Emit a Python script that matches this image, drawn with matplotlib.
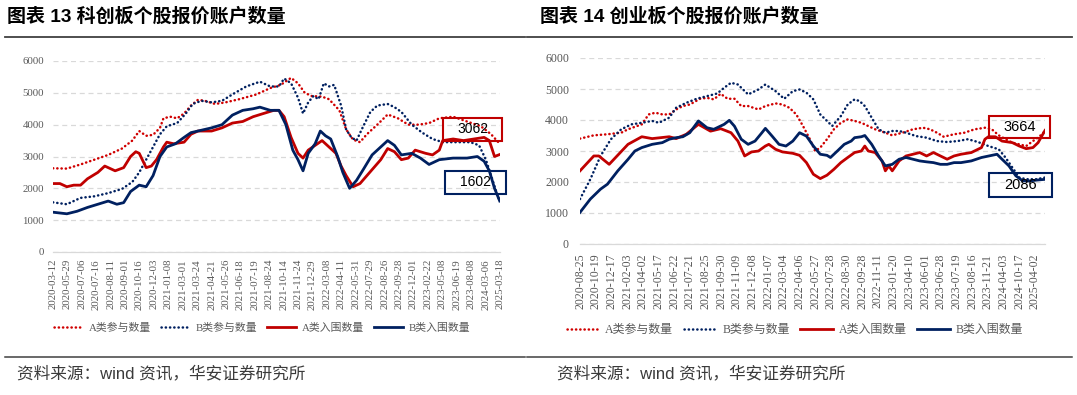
import matplotlib
matplotlib.use("Agg")
import matplotlib.pyplot as plt
from matplotlib.lines import Line2D
from matplotlib.patches import Rectangle

W, H, DPI = 1077, 395, 100

# ---------------- data ----------------
# x positions are in units of "tick label index" of each categorical axis

kc_labels = ["2020-03-12", "2020-05-29", "2020-07-06", "2020-07-16", "2020-08-11", "2020-09-01",
             "2020-10-16", "2020-12-03", "2021-01-08", "2021-03-01", "2021-03-24", "2021-04-21",
             "2021-05-26", "2021-06-18", "2021-07-19", "2021-08-24", "2021-10-14", "2021-11-24",
             "2021-12-29", "2022-03-08", "2022-04-11", "2022-05-31", "2022-07-29", "2022-08-26",
             "2022-09-28", "2022-12-01", "2023-02-22", "2023-05-08", "2023-06-19", "2023-08-08",
             "2024-03-06", "2025-03-18"]

cy_labels = ["2020-08-25", "2020-10-19", "2020-12-17", "2021-02-03", "2021-04-02", "2021-05-17",
             "2021-06-22", "2021-07-21", "2021-08-25", "2021-09-30", "2021-11-09", "2021-12-08",
             "2022-01-07", "2022-03-04", "2022-04-06", "2022-05-27", "2022-07-28", "2022-08-30",
             "2022-09-28", "2022-11-11", "2023-01-20", "2023-04-10", "2023-06-01", "2023-06-28",
             "2023-07-19", "2023-08-16", "2023-11-21", "2024-04-03", "2024-10-17", "2025-04-02"]

series_names = ["A类参与数量", "B类参与数量", "A类入围数量", "B类入围数量"]

# 科创板 - A类参与
kc_a_join_x = [0.00, 0.96, 1.91, 2.87, 3.83, 4.78, 5.50, 5.98, 6.46, 6.94, 7.42, 7.66, 8.13, 8.61,
               9.09, 9.57, 10.05, 10.53, 11.24, 11.96, 12.92, 14.11, 15.07, 15.79, 16.51, 16.99,
               17.46, 17.94, 18.66, 19.14, 19.86, 20.33, 20.81, 21.29, 21.77, 22.49, 23.21, 23.92,
               24.64, 25.36, 26.08, 26.79, 27.75, 28.71, 29.67, 30.38, 30.98]
kc_a_join_y = [2630, 2620, 2750, 2900, 3050, 3250, 3500, 3800, 3650, 3680, 3900, 4200, 4250, 4200,
               4350, 4600, 4780, 4750, 4650, 4700, 4800, 4950, 5150, 5250, 5470, 5300,
               5000, 4900, 4880, 4800, 4450, 3850, 3530, 3450, 3700, 4000, 4320, 4200,
               4000, 4000, 4050, 4200, 4250, 4100, 3950, 3700, 3400]

# 科创板 - B类参与
kc_b_join_x = [0.00, 0.96, 1.91, 2.87, 3.83, 4.78, 5.50, 5.98, 6.46, 6.94, 7.42, 7.89, 8.61, 9.21,
               9.69, 10.29, 11.00, 11.72, 12.44, 13.40, 14.35, 15.07, 15.67, 16.03, 16.51, 16.99,
               17.34, 17.70, 18.06, 18.42, 18.78, 19.14, 19.50, 19.98, 20.33, 20.69, 21.05, 21.41,
               22.01, 22.49, 23.21, 23.68, 24.16, 24.88, 25.60, 26.32, 27.03, 27.99, 28.95, 29.55,
               30.02, 30.38, 30.74, 30.98]
kc_b_join_y = [1560, 1500, 1700, 1750, 1850, 1980, 2200, 2500, 2900, 3300, 3700, 3950, 4050, 4350,
               4650, 4750, 4700, 4750, 4950, 5200, 5350, 5200, 5200, 5450, 5300, 4850,
               4350, 4700, 4900, 4800, 5300, 5200, 5250, 4600, 3850, 3600, 3500, 3850,
               4400, 4600, 4650, 4550, 4400, 4000, 3750, 3550, 3450, 3450, 3450, 3350,
               2900, 2400, 1900, 1600]

# 科创板 - A类入围
kc_a_in_x = [0.00, 0.48, 0.96, 1.44, 1.91, 2.39, 3.11, 3.59, 4.31, 4.90, 5.38, 5.74, 5.98, 6.46,
             6.82, 7.18, 7.66, 7.89, 8.37, 9.09, 9.57, 10.05, 11.00, 11.72, 12.44, 13.16, 13.88,
             14.59, 15.31, 15.67, 16.03, 16.51, 16.99, 17.34, 17.70, 18.18, 18.66, 19.14, 19.62,
             19.98, 20.33, 20.81, 21.29, 21.77, 22.25, 22.73, 23.21, 23.68, 24.16, 24.64, 25.12,
             25.84, 26.32, 26.79, 27.03, 27.75, 28.47, 29.19, 29.90, 30.26, 30.62, 30.98]
kc_a_in_y = [2150, 2150, 2050, 2100, 2100, 2300, 2500, 2700, 2550, 2650, 3000, 3150, 3100, 2650,
             2700, 2900, 3300, 3450, 3400, 3450, 3700, 3800, 3800, 3900, 4050, 4100, 4250,
             4350, 4450, 4450, 4250, 3600, 3100, 2950, 3200, 3350, 3500, 3300, 3100,
             2700, 2400, 2050, 2150, 2400, 2650, 2900, 3250, 3150, 2900, 2950, 3200,
             3100, 3050, 3200, 3500, 3550, 3500, 3550, 3600, 3500, 3000, 3062]

# 科创板 - B类入围
kc_b_in_x = [0.00, 0.96, 1.67, 2.39, 3.11, 3.83, 4.43, 4.90, 5.38, 5.98, 6.46, 6.94, 7.42, 7.89,
             8.49, 9.09, 9.57, 10.05, 11.00, 11.72, 12.44, 13.16, 13.88, 14.35, 15.07, 15.67,
             16.15, 16.63, 16.99, 17.34, 17.70, 18.18, 18.54, 18.90, 19.26, 19.74, 20.10, 20.57,
             21.05, 21.53, 22.13, 22.73, 23.21, 23.68, 24.16, 24.88, 25.48, 26.08, 26.79, 27.75,
             28.71, 29.43, 29.90, 30.26, 30.62, 30.98]
kc_b_in_y = [1250, 1200, 1280, 1400, 1500, 1600, 1500, 1550, 1900, 2100, 2050, 2400, 3000, 3300,
             3400, 3600, 3750, 3800, 3900, 4000, 4300, 4450, 4500, 4550, 4450, 4450,
             4000, 3200, 2900, 2550, 3100, 3400, 3800, 3650, 3550, 3000, 2500, 2000,
             2250, 2600, 3050, 3300, 3500, 3350, 3050, 3100, 2950, 2750, 2900, 2950,
             2950, 3000, 2850, 2550, 2000, 1602]

# 创业板 - A类参与
cy_a_join_x = [0.00, 0.88, 1.75, 2.63, 3.06, 3.94, 4.38, 4.81, 5.25, 5.69, 6.13, 6.56, 7.00, 7.66,
               8.10, 8.53, 8.97, 9.41, 9.85, 10.28, 10.72, 11.38, 11.82, 12.47, 12.91, 13.35,
               13.79, 14.22, 14.66, 14.99, 15.32, 15.75, 16.19, 16.63, 17.07, 17.51, 17.94, 18.38,
               18.82, 19.47, 19.91, 20.57, 21.23, 21.88, 22.32, 22.76, 23.19, 23.85, 24.51, 25.16,
               25.82, 26.26, 26.70, 27.13, 27.57, 28.01, 28.45, 28.88, 29.32, 29.65]
cy_a_join_y = [3400, 3505, 3540, 3590, 3700, 3860, 4180, 4235, 4180, 4180, 4340, 4450, 4500, 4685,
               4715, 4665, 4845, 4685, 4685, 4450, 4450, 4340, 4450, 4535, 4500, 4395,
               4180, 3805, 3380, 3000, 3110, 3380, 3700, 3910, 4020, 3970, 3910, 3805,
               3700, 3590, 3505, 3590, 3700, 3750, 3700, 3590, 3460, 3540, 3590, 3700,
               3750, 3700, 3505, 3380, 3270, 3215, 3160, 3320, 3480, 3640]

# 创业板 - B类参与
cy_b_join_x = [0.00, 0.66, 1.31, 1.97, 2.63, 3.28, 3.94, 4.60, 5.03, 5.69, 6.13, 6.78, 7.44, 8.10,
               8.75, 9.19, 9.63, 10.07, 10.72, 11.38, 11.82, 12.47, 13.02, 13.57, 14.00, 14.44,
               14.88, 15.32, 15.75, 16.08, 16.63, 17.07, 17.51, 17.83, 18.16, 18.60, 19.04, 19.47,
               19.91, 20.35, 20.79, 21.44, 22.10, 22.76, 23.41, 24.07, 24.73, 25.38, 26.04, 26.70,
               27.13, 27.57, 28.01, 28.45, 29.10, 29.65]
cy_b_join_y = [1450, 2090, 2840, 3380, 3700, 3860, 3910, 3970, 3910, 4075, 4395, 4555, 4685, 4770,
               4855, 5040, 5200, 5145, 4825, 4985, 5145, 4930, 4685, 4930, 4985, 4880,
               4665, 4180, 3970, 3805, 4125, 4500, 4665, 4610, 4450, 4075, 3700, 3590,
               3645, 3645, 3590, 3480, 3430, 3320, 3290, 3320, 3380, 3290, 3160, 3055,
               2790, 2465, 2145, 2090, 2090, 2145]

# 创业板 - A类入围
cy_a_in_x = [0.00, 0.88, 1.20, 1.86, 3.06, 3.94, 4.60, 5.69, 6.13, 6.78, 7.55, 8.32, 8.97, 9.63,
             10.07, 10.50, 10.94, 11.38, 11.82, 12.04, 12.47, 12.91, 13.57, 14.00, 14.44, 14.88,
             15.32, 15.75, 16.19, 16.63, 17.07, 17.51, 17.94, 18.16, 18.38, 18.82, 19.26, 19.47,
             19.69, 19.91, 20.35, 20.79, 21.23, 21.66, 22.10, 22.54, 22.98, 23.41, 23.85, 24.29,
             24.95, 25.60, 25.82, 26.04, 26.48, 26.91, 27.57, 28.01, 28.45, 28.88, 29.21, 29.65]
cy_a_in_y = [2360, 2840, 2840, 2570, 3215, 3460, 3400, 3460, 3400, 3540, 3860, 3640, 3720, 3590,
             3320, 2840, 2970, 3000, 3160, 3215, 3055, 2970, 2925, 2860, 2625, 2250,
             2110, 2220, 2410, 2625, 2790, 2950, 3000, 3160, 3000, 2950, 2680, 2360,
             2520, 2360, 2680, 2840, 2895, 2950, 2840, 2950, 2840, 2735, 2840, 2895,
             2950, 3110, 3380, 3460, 3460, 3320, 3270, 3160, 3075, 3110, 3270, 3664]

# 创业板 - B类入围
cy_b_in_x = [0.00, 0.66, 1.31, 1.75, 2.41, 3.06, 3.50, 3.94, 4.60, 5.25, 5.69, 6.13, 6.56, 7.00,
             7.55, 8.10, 8.53, 9.19, 9.52, 9.85, 10.28, 10.72, 11.16, 11.60, 11.82, 12.25, 12.69,
             13.13, 13.57, 14.00, 14.44, 14.88, 15.32, 15.75, 15.97, 16.41, 16.85, 17.29, 17.51,
             17.94, 18.16, 18.60, 19.04, 19.47, 19.91, 20.35, 20.79, 21.23, 21.66, 22.10, 22.54,
             22.98, 23.41, 23.85, 24.29, 24.95, 25.60, 26.26, 26.59, 26.91, 27.35, 27.79, 28.23,
             28.67, 29.10, 29.65]
cy_b_in_y = [1020, 1450, 1770, 1930, 2360, 2730, 3000, 3110, 3215, 3270, 3380, 3430, 3460, 3590,
             3970, 3750, 3700, 3860, 3990, 3800, 3380, 3215, 3320, 3590, 3730, 3480, 3215,
             3160, 3320, 3590, 3480, 3160, 2895, 2860, 2790, 3000, 3215, 3320, 3430,
             3460, 3500, 3215, 2840, 2520, 2570, 2735, 2790, 2735, 2680, 2650, 2625,
             2570, 2570, 2625, 2625, 2680, 2790, 2860, 2895, 2735, 2520, 2200, 2035,
             2035, 2060, 2086]

kc_last = ["3062", "1602"]
cy_last = ["3664", "2086"]

# ---------------- styling ----------------
RED = "#C00000"
NAVY = "#002060"
GREY = "#595959"
SERIF = ["Liberation Serif", "Noto Sans CJK SC"]
SANS = ["Liberation Sans", "Noto Sans CJK SC"]

styles = [
    dict(color="#D00000", lw=1.8, linestyle=(0, (0.1, 1.6)), dash_capstyle="round"),
    dict(color=NAVY, lw=1.8, linestyle=(0, (0.1, 1.6)), dash_capstyle="round"),
    dict(color=RED, lw=2.0, solid_joinstyle="round"),
    dict(color=NAVY, lw=2.0, solid_joinstyle="round"),
]


def fx(px):
    return px / W


def fy(py):
    return 1 - py / H


fig = plt.figure(figsize=(W / DPI, H / DPI), dpi=DPI)


def draw_panel(rect, series, labels, xmax, fs, ypad, xpad):
    ax = fig.add_axes(rect)
    for (xs, ys), st in zip(series, styles):
        ax.plot(xs, ys, **st)
    ax.set_xlim(0, xmax)
    ax.set_ylim(0, 6000)
    ax.set_yticks(range(0, 6001, 1000))
    ax.set_yticklabels([str(v) for v in range(0, 6001, 1000)])
    ax.set_xticks(range(len(labels)))
    ax.set_xticklabels(labels, rotation=90)
    for t in ax.get_xticklabels() + ax.get_yticklabels():
        t.set_family(SERIF)
        t.set_fontsize(fs)
        t.set_color(GREY)
    ax.tick_params(axis="both", length=0)
    ax.tick_params(axis="y", pad=ypad)
    ax.tick_params(axis="x", pad=xpad)
    for s in ["top", "right", "left"]:
        ax.spines[s].set_visible(False)
    ax.spines["bottom"].set_color("#D9D9D9")
    ax.spines["bottom"].set_linewidth(0.9)
    ax.yaxis.grid(True, color="#D9D9D9", linestyle=(0, (4, 3)), linewidth=0.9)
    ax.set_axisbelow(True)
    return ax


def last_box(ax, x0, x1, y0, y1, text, color, fs):
    ax.add_patch(Rectangle((x0, y0), x1 - x0, y1 - y0, fill=False, edgecolor=color,
                           linewidth=1.5, clip_on=False, zorder=5))
    ax.text((x0 + x1) / 2, (y0 + y1) / 2, text, ha="center", va="center",
            fontsize=fs, family="Liberation Sans", color="black", zorder=6, clip_on=False)


# left panel: 科创板
ax1 = draw_panel([fx(53), fy(252), fx(500) - fx(53), fy(61) - fy(252)],
                 [(kc_a_join_x, kc_a_join_y), (kc_b_join_x, kc_b_join_y),
                  (kc_a_in_x, kc_a_in_y), (kc_b_in_x, kc_b_in_y)],
                 kc_labels, 31, 7.8, 6.5, 5)
last_box(ax1, 27.05, 31.14, 3487, 4210, kc_last[0], RED, 10)
last_box(ax1, 27.18, 31.41, 1822, 2545, kc_last[1], NAVY, 10)

# right panel: 创业板
ax2 = draw_panel([fx(580), fy(244), fx(1045) - fx(580), fy(58) - fy(244)],
                 [(cy_a_join_x, cy_a_join_y), (cy_b_join_x, cy_b_join_y),
                  (cy_a_in_x, cy_a_in_y), (cy_b_in_x, cy_b_in_y)],
                 cy_labels, 29.65, 8.6, 8, 7)
last_box(ax2, 26.08, 29.97, 3419, 4129, cy_last[0], RED, 10.5)
last_box(ax2, 26.08, 30.10, 1516, 2290, cy_last[1], NAVY, 10.5)

# legends
handles = [Line2D([], [], **st) for st in styles]
for cx, cy, fs in [(262, 328, 7.8), (795, 330, 8.6)]:
    leg = fig.legend(handles, series_names, loc="center", bbox_to_anchor=(fx(cx), fy(cy)),
                     ncol=4, frameon=False, handlelength=2.7, handletextpad=0.5,
                     columnspacing=0.9, prop=dict(family=SERIF, size=fs))
    for t in leg.get_texts():
        t.set_color(GREY)

# titles, rules and source notes
fig.text(fx(7), fy(17), "图表 13 科创板个股报价账户数量", fontsize=13.7, fontweight="bold",
         family=SANS, ha="left", va="center")
fig.text(fx(540), fy(17), "图表 14 创业板个股报价账户数量", fontsize=13.7, fontweight="bold",
         family=SANS, ha="left", va="center")
for x0, x1 in [(5, 525), (527, 1072)]:
    fig.add_artist(Line2D([fx(x0), fx(x1)], [fy(37), fy(37)], color="#404040", lw=1.3))
    fig.add_artist(Line2D([fx(x0), fx(x1)], [fy(357), fy(357)], color="#404040", lw=1.1))
fig.text(fx(17), fy(373), "资料来源：wind 资讯，华安证券研究所", fontsize=12, family=SANS,
         color="#3a3a3a", ha="left", va="center")
fig.text(fx(557), fy(373), "资料来源：wind 资讯，华安证券研究所", fontsize=12, family=SANS,
         color="#3a3a3a", ha="left", va="center")

fig.savefig("out.png", dpi=DPI)
